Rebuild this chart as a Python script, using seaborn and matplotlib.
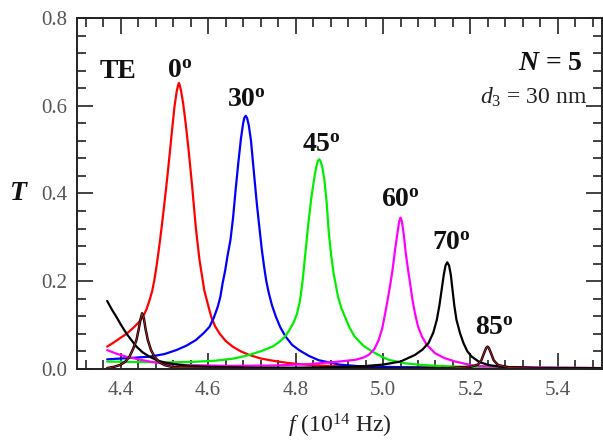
import matplotlib
matplotlib.use('Agg')
import matplotlib.pyplot as plt
import matplotlib.patheffects as pe
from matplotlib.ticker import MultipleLocator
import seaborn as sns

# transmission curves (f in 1e14 Hz, T)
f_0 = [4.369, 4.385, 4.398, 4.413, 4.428, 4.440, 4.451, 4.459, 4.466, 4.472, 4.477, 4.481,
       4.485, 4.490, 4.495, 4.500, 4.506, 4.512, 4.518, 4.523, 4.528, 4.531, 4.533, 4.535,
       4.538, 4.543, 4.549, 4.556, 4.563, 4.572, 4.580, 4.591, 4.600, 4.607, 4.616, 4.626,
       4.640, 4.656, 4.675, 4.694, 4.720, 4.747, 4.780, 4.808, 4.850, 4.900, 5.000, 5.200,
       5.500]
T_0 = [0.051, 0.061, 0.070, 0.080, 0.093, 0.105, 0.119, 0.136, 0.157, 0.178, 0.203, 0.228,
       0.256, 0.294, 0.335, 0.378, 0.432, 0.490, 0.550, 0.598, 0.632, 0.646, 0.652, 0.647,
       0.634, 0.604, 0.556, 0.492, 0.420, 0.320, 0.250, 0.180, 0.145, 0.119, 0.097, 0.081,
       0.064, 0.051, 0.040, 0.032, 0.024, 0.019, 0.014, 0.011, 0.008, 0.006, 0.004, 0.003,
       0.002]

f_30 = [4.369, 4.420, 4.466, 4.500, 4.527, 4.550, 4.572, 4.590, 4.603, 4.613, 4.622, 4.628,
        4.633, 4.639, 4.644, 4.651, 4.657, 4.663, 4.669, 4.675, 4.680, 4.683, 4.686, 4.689,
        4.693, 4.698, 4.704, 4.711, 4.718, 4.723, 4.728, 4.733, 4.739, 4.746, 4.755, 4.765,
        4.777, 4.792, 4.808, 4.830, 4.853, 4.900, 4.950, 5.050, 5.200, 5.500]
T_30 = [0.022, 0.025, 0.028, 0.034, 0.043, 0.053, 0.066, 0.082, 0.096, 0.117, 0.142, 0.165,
        0.195, 0.225, 0.256, 0.294, 0.345, 0.410, 0.470, 0.525, 0.560, 0.573, 0.577, 0.572,
        0.555, 0.520, 0.455, 0.380, 0.315, 0.270, 0.233, 0.200, 0.172, 0.145, 0.119, 0.095,
        0.074, 0.055, 0.043, 0.030, 0.020, 0.010, 0.006, 0.004, 0.002, 0.001]

f_45 = [4.369, 4.430, 4.504, 4.560, 4.618, 4.660, 4.694, 4.722, 4.747, 4.762, 4.774, 4.785,
        4.795, 4.803, 4.810, 4.816, 4.823, 4.829, 4.836, 4.842, 4.847, 4.851, 4.854, 4.857,
        4.861, 4.866, 4.871, 4.876, 4.881, 4.887, 4.897, 4.905, 4.913, 4.923, 4.935, 4.955,
        4.975, 4.995, 5.013, 5.050, 5.089, 5.150, 5.250, 5.500]
T_45 = [0.017, 0.016, 0.015, 0.016, 0.019, 0.024, 0.032, 0.041, 0.051, 0.061, 0.072, 0.087,
        0.105, 0.125, 0.155, 0.200, 0.270, 0.330, 0.390, 0.430, 0.460, 0.474, 0.478, 0.474,
        0.460, 0.430, 0.380, 0.310, 0.262, 0.218, 0.165, 0.138, 0.119, 0.095, 0.074, 0.053,
        0.040, 0.029, 0.021, 0.013, 0.009, 0.006, 0.004, 0.002]

f_60 = [4.369, 4.390, 4.413, 4.440, 4.466, 4.500, 4.550, 4.650, 4.750, 4.830, 4.890, 4.937,
        4.955, 4.967, 4.980, 4.990, 4.998, 5.005, 5.011, 5.017, 5.022, 5.028, 5.033, 5.037,
        5.040, 5.043, 5.047, 5.052, 5.057, 5.062, 5.067, 5.073, 5.080, 5.089, 5.100, 5.119,
        5.140, 5.165, 5.210, 5.300, 5.500]
T_60 = [0.043, 0.035, 0.028, 0.022, 0.017, 0.012, 0.009, 0.007, 0.008, 0.011, 0.016, 0.021,
        0.026, 0.032, 0.045, 0.066, 0.092, 0.127, 0.160, 0.195, 0.228, 0.275, 0.310, 0.336,
        0.345, 0.337, 0.310, 0.264, 0.228, 0.195, 0.160, 0.127, 0.097, 0.074, 0.055, 0.036,
        0.025, 0.017, 0.007, 0.004, 0.002]

f_70 = [4.369, 4.380, 4.390, 4.401, 4.413, 4.425, 4.436, 4.450, 4.466, 4.485, 4.504, 4.530,
        4.557, 4.600, 4.700, 4.800, 4.880, 4.950, 5.000, 5.040, 5.073, 5.090, 5.104, 5.115,
        5.123, 5.129, 5.134, 5.139, 5.143, 5.147, 5.151, 5.155, 5.159, 5.163, 5.168, 5.176,
        5.184, 5.193, 5.203, 5.220, 5.241, 5.270, 5.350, 5.500]
T_70 = [0.155, 0.135, 0.119, 0.100, 0.081, 0.065, 0.051, 0.038, 0.028, 0.019, 0.014, 0.010,
        0.007, 0.005, 0.003, 0.003, 0.004, 0.006, 0.010, 0.017, 0.032, 0.044, 0.059, 0.083,
        0.112, 0.145, 0.180, 0.215, 0.236, 0.243, 0.236, 0.215, 0.180, 0.145, 0.112, 0.082,
        0.059, 0.040, 0.028, 0.016, 0.009, 0.005, 0.002, 0.001]

f_85 = [4.369, 4.385, 4.398, 4.410, 4.420, 4.428, 4.436, 4.441, 4.445, 4.449, 4.453, 4.457,
        4.462, 4.469, 4.477, 4.488, 4.500, 4.520, 4.600, 4.800, 5.000, 5.150, 5.200, 5.217,
        5.225, 5.231, 5.236, 5.239, 5.242, 5.247, 5.253, 5.263, 5.290, 5.400, 5.500]
T_85 = [0.002, 0.005, 0.009, 0.016, 0.028, 0.045, 0.066, 0.090, 0.112, 0.127, 0.115, 0.090,
        0.066, 0.044, 0.028, 0.016, 0.009, 0.004, 0.002, 0.001, 0.001, 0.002, 0.005, 0.010,
        0.020, 0.036, 0.048, 0.051, 0.048, 0.036, 0.020, 0.009, 0.003, 0.001, 0.001]

xtick_vals = [4.4, 4.6, 4.8, 5.0, 5.2, 5.4]
ytick_vals = [0.0, 0.2, 0.4, 0.6, 0.8]

sns.set_style('ticks')
plt.rcParams['font.family'] = ['Liberation Serif', 'DejaVu Serif']
plt.rcParams['mathtext.fontset'] = 'custom'
plt.rcParams['mathtext.rm'] = 'Liberation Serif'
plt.rcParams['mathtext.it'] = 'Liberation Serif:italic'
plt.rcParams['mathtext.bf'] = 'Liberation Serif:bold'
plt.rcParams['mathtext.bfit'] = 'Liberation Serif:italic:bold'

fig = plt.figure(figsize=(6.03, 4.41), dpi=100)
ax = fig.add_axes([0.1277, 0.1633, 0.870, 0.796])

sns.lineplot(x=f_0, y=T_0, color='#ff0000', lw=1.6, ax=ax)
sns.lineplot(x=f_30, y=T_30, color='#0000ff', lw=1.6, ax=ax)
sns.lineplot(x=f_45, y=T_45, color='#00ee00', lw=1.6, ax=ax)
sns.lineplot(x=f_60, y=T_60, color='#ff00ff', lw=1.6, ax=ax)
sns.lineplot(x=f_70, y=T_70, color='black', lw=1.6, ax=ax)
sns.lineplot(x=f_85, y=T_85, color='#cc2020', lw=0.6, ax=ax)
ax.lines[-1].set_path_effects([pe.Stroke(linewidth=1.8, foreground='black'), pe.Normal()])

ax.set_xlim(4.3, 5.5)
ax.set_ylim(0, 0.8)
ax.xaxis.set_minor_locator(MultipleLocator(0.04))
ax.yaxis.set_minor_locator(MultipleLocator(0.04))
ax.set_xticks(xtick_vals)
ax.set_xticklabels([f'{v:.1f}' for v in xtick_vals])
ax.set_yticks(ytick_vals)
ax.set_yticklabels([f'{v:.1f}' for v in ytick_vals])

ax.tick_params(which='both', direction='in', top=True, right=True, color='#222222',
               width=1.2, labelcolor='#555555', labelsize=15)
ax.tick_params(which='major', length=11.5)
ax.tick_params(which='minor', length=6.5)
ax.tick_params(axis='y', pad=7)
ax.tick_params(axis='x', pad=9)
for s in ax.spines.values():
    s.set_linewidth(1.4)
    s.set_color('#222222')

ax.set_xlabel(r'$f$ (10$^{14}$ Hz)', fontsize=17, color='#222222', va='center')
ax.xaxis.set_label_coords(0.5, -0.162)
ax.set_ylabel('T', fontsize=20, fontweight='bold', fontstyle='italic', rotation=0,
              color='#111111', va='center', ha='center')
ax.yaxis.set_label_coords(-0.112, 0.5)

bold = dict(fontsize=20, fontweight='bold', ha='center', va='baseline', color='#111111')
ax.text(4.393, 0.663, 'TE', **bold)
ax.text(4.534, 0.663, r'0$^{\mathbf{o}}$', **bold)
ax.text(4.687, 0.597, r'30$^{\mathbf{o}}$', **bold)
ax.text(4.860, 0.495, r'45$^{\mathbf{o}}$', **bold)
ax.text(5.040, 0.369, r'60$^{\mathbf{o}}$', **bold)
ax.text(5.156, 0.271, r'70$^{\mathbf{o}}$', **bold)
ax.text(5.256, 0.0775, r'85$^{\mathbf{o}}$', **bold)
ax.text(5.457, 0.682, r'$\mathbfit{N}$ = 5', fontsize=20, fontweight='bold',
        ha='right', va='baseline', color='#111111')
ax.text(5.468, 0.604, r'$d_3$ = 30 nm', fontsize=17, ha='right', va='baseline',
        color='#222222')

fig.savefig('out.png', dpi=100)
